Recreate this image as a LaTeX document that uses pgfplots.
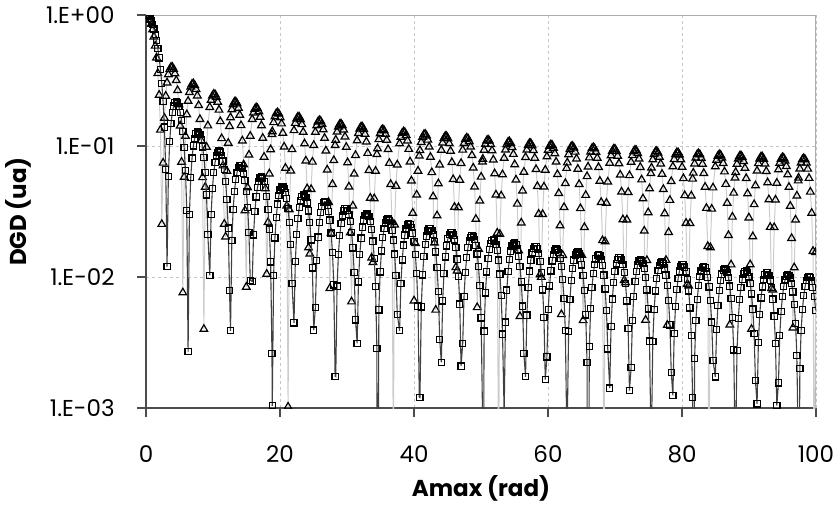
\documentclass[border=0pt]{standalone}
\usepackage{pgfplots}
\pgfplotsset{compat=1.18}
\usepackage{pgfplotstable}
\usepackage{fontspec}
\setmainfont{Poppins}
\pgfplotstableread{
x s j
0 1 1
0.1963 0.99359 0.99039
0.3927 0.97450 0.96182
0.5890 0.94317 0.91512
0.7854 0.90032 0.85163
0.9817 0.84693 0.77317
1.1781 0.78421 0.68198
1.3744 0.71359 0.58064
1.5708 0.63662 0.47200
1.7671 0.55501 0.35908
1.9635 0.47053 0.24498
2.1598 0.38497 0.13270
2.3562 0.30011 0.02530
2.5525 0.21765 0.07430
2.7489 0.13921 0.16350
2.9452 0.06624 0.24080
3.1416 0.01200 0.30424
3.3379 0.05845 0.35174
3.5343 0.10828 0.38416
3.7306 0.14892 0.40042
3.9270 0.18006 0.40060
4.1233 0.20165 0.38612
4.3197 0.21388 0.35759
4.5160 0.21718 0.31688
4.7124 0.21221 0.26600
4.9087 0.19980 0.20712
5.1051 0.18097 0.14276
5.3014 0.15684 0.07545
5.4978 0.12862 0.00760
5.6941 0.09757 0.05789
5.8905 0.06497 0.11911
6.0868 0.03205 0.17381
6.2832 0.00270 0.22020
6.4795 0.03011 0.25683
6.6759 0.05732 0.28264
6.8722 0.08084 0.29699
7.0686 0.10004 0.29968
7.2649 0.11445 0.29092
7.4613 0.12382 0.27137
7.6576 0.12808 0.24206
7.8540 0.12732 0.20429
8.0503 0.12183 0.15986
8.2467 0.11203 0.11021
8.4430 0.09848 0.05756
8.6394 0.08185 0.00400
8.8357 0.06288 0.04864
9.0321 0.04237 0.09820
9.2284 0.02114 0.14296
9.5230 0.010293 0.19772
9.7193 0.029866 0.22415
9.9157 0.047541 0.24154
10.1120 0.062737 0.24939
10.3084 0.074989 0.24761
10.5047 0.083955 0.23643
10.7011 0.089425 0.21646
10.8974 0.091323 0.18860
11.0937 0.089707 0.15406
11.2901 0.084759 0.11426
11.4864 0.076779 0.07079
11.6828 0.066167 0.02537
11.8791 0.053404 0.02027
12.0755 0.039037 0.06437
12.2718 0.023654 0.10532
12.4682 0.007862 0.14158
12.6155 0.003890 0.16495
12.8118 0.018965 0.19007
13.0082 0.032869 0.20757
13.2045 0.045114 0.21689
13.4009 0.055291 0.21780
13.5972 0.063081 0.21038
13.7936 0.068260 0.19504
13.9899 0.070707 0.17248
14.1863 0.070406 0.14364
14.3826 0.067444 0.10973
14.5790 0.062006 0.07209
14.7753 0.054361 0.03220
14.9717 0.044856 0.008389
15.1680 0.033894 0.04813
15.3644 0.021927 0.08553
15.5607 0.009430 0.11918
15.8552 0.009254 0.16000
16.0516 0.020988 0.17936
16.2479 0.031641 0.19164
16.4443 0.040838 0.19645
16.6406 0.048268 0.19369
16.8370 0.053691 0.18357
17.0333 0.056950 0.16656
17.2297 0.057970 0.14337
17.4260 0.056764 0.11497
17.6224 0.053429 0.08250
17.8187 0.048137 0.04723
18.0151 0.041130 0.010538
18.2114 0.032710 0.02616
18.4078 0.023227 0.06146
18.6041 0.013061 0.09403
18.8005 0.002610 0.12267
18.8496 0.00104 0.12909
19.0459 0.01024 0.15135
19.2423 0.01989 0.16759
19.4386 0.02858 0.17727
19.6350 0.03601 0.18006
19.8313 0.04193 0.17595
20.0277 0.04613 0.16514
20.2240 0.04850 0.14813
20.4204 0.04897 0.12562
20.6167 0.04757 0.09852
20.8131 0.04439 0.06790
21.0094 0.03958 0.03498
21.2058 0.03335 0.00102
21.4021 0.02596 0.03266
21.5985 0.01772 0.06478
21.7948 0.00895 0.09414
22.0893 0.004457 0.13152
22.2857 0.013083 0.14939
22.4820 0.021060 0.16139
22.6784 0.028095 0.16710
22.8747 0.033939 0.16637
23.0711 0.038390 0.15930
23.2674 0.041302 0.14619
23.4638 0.042592 0.12759
23.6601 0.042236 0.10428
23.8565 0.040279 0.07716
24.0528 0.036816 0.04732
24.2492 0.032007 0.016756
24.4455 0.026056 0.015020
24.6419 0.019207 0.04675
24.8382 0.011733 0.07562
25.0346 0.003931 0.10136
25.2800 0.005838 0.12783
25.4764 0.013300 0.14332
25.6727 0.020141 0.15320
25.8690 0.026109 0.15713
26.0654 0.030990 0.15503
26.2617 0.034617 0.14701
26.4581 0.036868 0.13342
26.6544 0.037681 0.11482
26.8508 0.037043 0.09198
27.0471 0.035002 0.06578
27.2435 0.031655 0.03724
27.4398 0.027148 0.008194
27.6362 0.021670 0.021637
27.8325 0.015443 0.05109
28.0289 0.008715 0.07769
28.2252 0.001748 0.10112
28.3229 0.001736 0.11118
28.5193 0.008534 0.12827
28.7156 0.014915 0.14031
28.9120 0.020639 0.14690
29.1083 0.025498 0.14783
29.3047 0.029318 0.14309
29.5010 0.031968 0.13290
29.6974 0.033363 0.11769
29.8937 0.033466 0.09808
30.0901 0.032289 0.07484
30.2864 0.029896 0.04888
30.4828 0.026392 0.021815
30.6791 0.021924 0.006483
30.8755 0.016677 0.03492
31.0718 0.010859 0.06125
31.2682 0.004700 0.08507
31.5141 0.003120 0.11004
31.7104 0.009182 0.12515
31.9068 0.014820 0.13538
32.1031 0.019822 0.14036
32.2995 0.024006 0.13993
32.4958 0.027221 0.13414
32.6922 0.029359 0.12326
32.8885 0.030350 0.10771
33.0849 0.030169 0.08813
33.2812 0.028838 0.06529
33.4776 0.026421 0.04009
33.6739 0.023023 0.014007
33.8703 0.018784 0.012950
34.0666 0.013878 0.03974
34.2630 0.008497 0.06435
34.4593 0.002853 0.08635
34.5575 0.00001 0.09561
34.7539 0.00561 0.11224
34.9502 0.01095 0.12447
35.1466 0.01581 0.13189
35.3429 0.02001 0.13421
35.5393 0.02340 0.13138
35.7356 0.02585 0.12351
35.9320 0.02730 0.11096
36.1283 0.02768 0.09423
36.3247 0.02700 0.07398
36.5210 0.02530 0.05100
36.7174 0.02265 0.02619
36.9137 0.01916 0.00044
37.1101 0.01497 0.02506
37.3064 0.01026 0.04952
37.5028 0.00520 0.07196
37.8464 0.003892 0.10438
38.0427 0.008890 0.11717
38.2391 0.013496 0.12540
38.4354 0.017540 0.12880
38.6318 0.020871 0.12723
38.8281 0.023370 0.12079
39.0245 0.024951 0.10976
39.2208 0.025562 0.09458
39.4172 0.025189 0.07585
39.6135 0.023857 0.05430
39.8099 0.021626 0.03078
40.0062 0.018590 0.006593
40.2026 0.014872 0.018108
40.3989 0.010622 0.04237
40.5953 0.006007 0.06450
40.7916 0.001207 0.08405
40.8898 0.001201 0.09251
41.0862 0.005921 0.10683
41.2825 0.010369 0.11700
41.4789 0.014378 0.12262
41.6752 0.017800 0.12352
41.8716 0.020509 0.11968
42.0679 0.022408 0.11127
42.2643 0.023432 0.09863
42.4606 0.023551 0.08228
42.6570 0.022767 0.06284
42.8533 0.021119 0.04109
43.0497 0.018679 0.018207
43.2460 0.015547 0.005605
43.4424 0.011847 0.02943
43.6387 0.007729 0.05167
43.8351 0.003351 0.07183
44.0805 0.002229 0.09300
44.2768 0.006570 0.10587
44.4732 0.010623 0.11462
44.6695 0.014233 0.11893
44.8659 0.017267 0.11868
45.0622 0.019614 0.11387
45.2586 0.021190 0.10471
45.4549 0.021941 0.09158
45.6513 0.021846 0.07500
45.8476 0.020917 0.05561
46.0440 0.019195 0.03417
46.2403 0.016753 0.011831
46.4367 0.013690 0.011172
46.6330 0.010130 0.03395
46.8294 0.006212 0.05502
47.0257 0.002089 0.07389
47.2711 0.003114 0.09336
47.4675 0.007119 0.10485
47.6638 0.010819 0.11228
47.8602 0.014075 0.11537
48.0565 0.016765 0.11402
48.2529 0.018792 0.10831
48.4492 0.020083 0.09847
48.6456 0.020594 0.08489
48.8419 0.020314 0.06811
49.0383 0.019258 0.04879
49.2346 0.017474 0.02767
49.4310 0.015035 0.005861
49.6273 0.012039 0.016360
49.8237 0.008607 0.03814
50.0200 0.004872 0.05808
50.2164 0.000980 0.07573
50.2655 0.00001 0.07944
50.4618 0.003866 0.09328
50.6582 0.007554 0.10349
50.8545 0.010925 0.10970
51.0509 0.013851 0.11167
51.2472 0.016224 0.10935
51.4436 0.017959 0.10284
51.6399 0.018993 0.09242
51.8363 0.019291 0.07850
52.0326 0.018850 0.06161
52.2290 0.017689 0.04243
52.4253 0.015860 0.02169
52.6217 0.013438 0.00026
52.8180 0.010519 0.02123
53.0144 0.007218 0.04176
53.2107 0.003666 0.06062
53.4562 0.000919 0.08090
53.6525 0.004533 0.09348
53.8489 0.007947 0.10242
54.0452 0.011032 0.10741
54.2416 0.013673 0.10826
54.4379 0.015770 0.10495
54.6343 0.017249 0.09763
54.8306 0.018056 0.08659
55.0270 0.018167 0.07227
55.2233 0.017581 0.05522
55.4197 0.016326 0.03612
55.6160 0.014455 0.015941
55.8124 0.012043 0.005008
56.0087 0.009187 0.02592
56.2051 0.005999 0.04553
56.4014 0.002604 0.06332
56.6469 0.001733 0.08202
56.8432 0.005116 0.09341
57.0396 0.008279 0.10118
57.2359 0.011103 0.10505
57.4323 0.013483 0.10487
57.6286 0.015330 0.10066
57.8250 0.016577 0.09262
58.0213 0.017181 0.08104
58.2176 0.017123 0.06640
58.4140 0.016410 0.04925
58.6103 0.015072 0.03028
58.8067 0.013167 0.010426
59.0030 0.010770 0.009972
59.1994 0.007976 0.03013
59.3957 0.004895 0.04885
59.5921 0.001648 0.06563
59.8376 0.002458 0.08295
60.0339 0.005625 0.09321
60.2303 0.008557 0.09985
60.4266 0.011141 0.10264
60.6230 0.013282 0.10149
60.8193 0.014900 0.09645
61.0157 0.015937 0.08772
61.2120 0.016356 0.07566
61.4084 0.016147 0.06073
61.6047 0.015320 0.04352
61.8011 0.013912 0.02469
61.9974 0.011980 0.005181
62.1937 0.009601 0.014661
62.3901 0.006869 0.03407
62.5864 0.003892 0.05191
62.7828 0.000783 0.06771
62.8810 0.000781 0.07458
63.0773 0.003855 0.08620
63.2737 0.006763 0.09448
63.4700 0.009393 0.09911
63.6664 0.011647 0.09991
63.8627 0.013442 0.09689
64.0591 0.014710 0.09015
64.2554 0.015406 0.07998
64.4517 0.015508 0.06677
64.6481 0.015016 0.05104
64.8444 0.013951 0.03339
65.0408 0.012359 0.014710
65.2371 0.010302 0.004662
65.4335 0.007863 0.02398
65.6298 0.005137 0.04213
65.8262 0.002231 0.05861
65.9734 0.00001 0.06934
66.1698 0.002948 0.08146
66.3661 0.005766 0.09042
66.5625 0.008346 0.09589
66.7588 0.010592 0.09765
66.9552 0.012418 0.09567
67.1515 0.013758 0.09002
67.3479 0.014563 0.08093
67.5442 0.014805 0.06877
67.7406 0.014478 0.05400
67.9369 0.013600 0.03720
68.1333 0.012204 0.01902
68.3296 0.010349 0.00018
68.5260 0.008107 0.01864
68.7223 0.005568 0.03668
68.9187 0.002831 0.05327
69.2132 0.001418 0.07419
69.4095 0.004188 0.08452
69.6059 0.006782 0.09158
69.8022 0.009101 0.09511
69.9986 0.011059 0.09497
70.1949 0.012581 0.09120
70.3913 0.013613 0.08393
70.5876 0.014119 0.07346
70.7840 0.014079 0.06020
70.9803 0.013501 0.04468
71.1767 0.012408 0.02747
71.3730 0.010845 0.009434
71.5694 0.008876 0.009081
71.7657 0.006577 0.02736
71.9621 0.004039 0.04437
72.1584 0.001360 0.05963
72.4039 0.002031 0.07539
72.6002 0.004650 0.08474
72.7966 0.007077 0.09080
72.9929 0.009219 0.09337
73.1893 0.010997 0.09235
73.3856 0.012343 0.08778
73.5820 0.013210 0.07986
73.7783 0.013565 0.06890
73.9747 0.013398 0.05532
74.1710 0.012719 0.03965
74.3674 0.011556 0.02250
74.5637 0.009957 0.004696
74.7601 0.007984 0.013397
74.9564 0.005715 0.03108
75.1528 0.003239 0.04736
75.3491 0.000653 0.06179
75.4473 0.000651 0.06808
75.6437 0.003214 0.07871
75.8400 0.005641 0.08629
76.0364 0.007839 0.09054
76.2327 0.009726 0.09130
76.4291 0.011230 0.08856
76.6254 0.012296 0.08242
76.8218 0.012884 0.07314
77.0181 0.012976 0.06108
77.2145 0.012571 0.04670
77.4108 0.011685 0.03056
77.6072 0.010357 0.013439
77.8035 0.008637 0.004295
77.9999 0.006595 0.02196
78.1962 0.004311 0.03859
78.3926 0.001873 0.05370
78.6380 0.001248 0.06960
78.8343 0.003687 0.07930
79.0307 0.005972 0.08594
79.2270 0.008017 0.08926
79.4234 0.009745 0.08915
79.6197 0.011090 0.08562
79.8161 0.012004 0.07881
80.0124 0.012453 0.06900
80.2088 0.012423 0.05655
80.4051 0.011916 0.04197
80.6015 0.010955 0.02581
80.7978 0.009579 0.008839
80.9942 0.007842 0.008563
81.1905 0.005813 0.02572
81.3869 0.003571 0.04172
81.5832 0.001203 0.05607
81.6814 0.00001 0.06232
81.8778 0.002383 0.07323
82.0741 0.004663 0.08131
82.2705 0.006753 0.08625
82.4668 0.008574 0.08786
82.6632 0.010058 0.08610
82.8595 0.011150 0.08104
83.0558 0.011809 0.07288
83.2522 0.012012 0.06194
83.4485 0.011753 0.04865
83.6449 0.011045 0.03353
83.8412 0.009917 0.01715
84.0376 0.008415 0.00013
84.2339 0.006596 0.01681
84.4303 0.004532 0.03309
84.6266 0.002305 0.04807
84.9702 0.001730 0.06958
85.1666 0.003963 0.07823
85.3629 0.006033 0.08384
85.5593 0.007863 0.08623
85.7556 0.009382 0.08530
85.9520 0.010535 0.08110
86.1483 0.011280 0.07380
86.3447 0.011587 0.06368
86.5410 0.011450 0.05114
86.7374 0.010874 0.03666
86.9337 0.009884 0.02081
87.1301 0.008519 0.004318
87.3264 0.006833 0.012419
87.5228 0.004893 0.02876
87.7191 0.002775 0.04383
87.9155 0.000559 0.05720
88.0137 0.000558 0.06303
88.2100 0.002756 0.07289
88.4064 0.004839 0.07992
88.6027 0.006727 0.08387
88.7991 0.008349 0.08459
88.9954 0.009643 0.08207
89.1918 0.010562 0.07639
89.3881 0.011072 0.06780
89.5845 0.011156 0.05663
89.7808 0.010810 0.04330
89.9772 0.010052 0.02835
90.1735 0.008912 0.012450
90.3699 0.007436 0.004002
90.5662 0.005680 0.02038
90.7626 0.003714 0.03582
90.9589 0.001614 0.04985
91.2044 0.001076 0.06462
91.4007 0.003179 0.07364
91.5971 0.005152 0.07982
91.7934 0.006919 0.08292
91.9898 0.008412 0.08283
92.1861 0.009577 0.07956
92.3825 0.010369 0.07325
92.5788 0.010761 0.06414
92.7752 0.010738 0.05258
92.9715 0.010303 0.03903
93.1678 0.009476 0.02401
93.3642 0.008288 0.008206
93.5605 0.006787 0.007982
93.7569 0.005033 0.02393
93.9532 0.003093 0.03882
94.1496 0.001042 0.05219
94.3951 0.001557 0.06601
94.5914 0.003567 0.07422
94.7878 0.005432 0.07956
94.9841 0.007082 0.08183
95.1805 0.008452 0.08096
95.3768 0.009493 0.07698
95.5732 0.010165 0.07006
95.7695 0.010445 0.06046
95.9658 0.010323 0.04856
96.1622 0.009806 0.03482
96.3585 0.008915 0.01976
96.5549 0.007686 0.004093
96.7512 0.006167 0.011806
96.9476 0.004417 0.02732
97.1439 0.002505 0.04165
97.3403 0.000505 0.05435
97.3894 0.00001 0.05707
97.5857 0.001999 0.06708
97.7821 0.003914 0.07449
97.9784 0.005670 0.07904
98.1748 0.007203 0.08053
98.3711 0.008453 0.07893
98.5675 0.009373 0.07430
98.7638 0.009931 0.06683
98.9602 0.010105 0.05681
99.1565 0.009891 0.04463
99.3529 0.009299 0.03076
99.5492 0.008352 0.01574
99.7456 0.007089 0.00010
99.9419 0.005559 0.01544
}\data

\begin{document}
\begin{tikzpicture}
\path[use as bounding box] (-73pt,-48pt) rectangle (346.5pt,204pt);
\begin{axis}[
  at={(0,0)}, anchor=south west,
  scale only axis, width=335pt, height=196.5pt,
  ymode=log, log basis y=10,
  xmin=0, xmax=100, ymin=1e-3, ymax=1,
  xtick={0,20,40,60,80,100},
  ytick={0.001,0.01,0.1,1},
  yticklabels={1.E-03,1.E-02,1.E-01,1.E+00},
  minor ytick={}, minor xtick={},
  grid=major,
  major grid style={gray!45, dash pattern=on 1.5pt off 1.5pt, line width=0.4pt},
  axis x line*=bottom, axis y line*=left,
  axis line style={black!70, line width=0.9pt},
  tick style={black!70, line width=0.9pt},
  tick align=outside, major tick length=4.5pt,
  /pgf/number format/assume math mode=true,
  ticklabel style={font=\fontsize{11.5}{13}\selectfont},
  xticklabel style={anchor=center, yshift=-18.5pt},
  yticklabel style={anchor=east, inner sep=0pt, xshift=-11pt},
  xlabel={Amax (rad)}, ylabel={DGD (ua)},
  label style={font=\fontsize{11.5}{13}\selectfont\bfseries},
  xlabel style={at={([yshift=-40pt]axis description cs:0.5,0)}, anchor=center},
  ylabel style={at={([xshift=-64pt]axis description cs:0,0.5)}, anchor=center, rotate=0},
  clip marker paths=true,
]
\draw[gray!65, line width=0.6pt] (rel axis cs:0,1) -- (rel axis cs:1,1) -- (rel axis cs:1,0);
\addplot[gray!40, line width=0.5pt, mark=triangle, mark size=2.2pt,
  mark options={black, line width=0.6pt, solid}] table[x=x, y=j]{\data};
\addplot[black!75, line width=0.55pt, mark=square, mark size=1.55pt,
  mark options={black, line width=0.6pt, solid}] table[x=x, y=s]{\data};
\end{axis}
\end{tikzpicture}
\end{document}
